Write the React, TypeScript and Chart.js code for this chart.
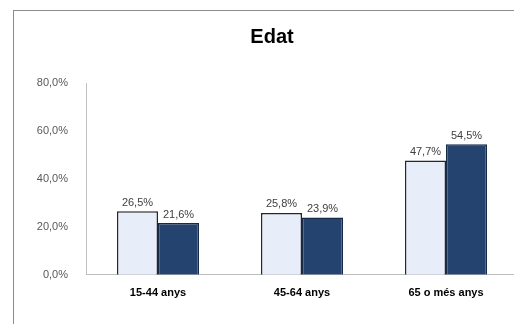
import React, { useEffect, useRef } from "react";
import { Chart, registerables } from "chart.js";

Chart.register(...registerables);

const categories = ["15-44 anys", "45-64 anys", "65 o més anys"];
const seriesA = [26.5, 25.8, 47.7];
const seriesB = [21.6, 23.9, 54.5];
const titleText = "Edat";

const fmt = (v: number) => v.toFixed(1).replace(".", ",") + "%";

const FONT = "'Liberation Sans', Arial, sans-serif";

const labelPlugin = {
  id: "valueLabels",
  afterDatasetsDraw(chart: any) {
    const ctx = chart.ctx;
    ctx.save();
    ctx.font = `11px ${FONT}`;
    ctx.fillStyle = "#404040";
    ctx.textAlign = "center";
    ctx.textBaseline = "bottom";
    chart.data.datasets.forEach((ds: any, di: number) => {
      const meta = chart.getDatasetMeta(di);
      meta.data.forEach((el: any, i: number) => {
        ctx.fillText(fmt(ds.data[i]), el.x, el.y - 3);
      });
    });
    ctx.restore();
  },
};

function grad(ctx: any, edge: string, mid: string) {
  const chart = ctx.chart;
  const el = ctx.element;
  if (!chart.chartArea || !el) return mid;
  const x0 = el.x - el.width / 2;
  const x1 = el.x + el.width / 2;
  if (!isFinite(x0) || !isFinite(x1)) return mid;
  const g = chart.ctx.createLinearGradient(x0, 0, x1, 0);
  g.addColorStop(0, edge);
  g.addColorStop(0.2, mid);
  g.addColorStop(0.8, mid);
  g.addColorStop(1, edge);
  return g;
}

export default function App() {
  const ref = useRef<HTMLCanvasElement>(null);
  useEffect(() => {
    if (!ref.current) return;
    const chart = new Chart(ref.current, {
      type: "bar",
      data: {
        labels: categories,
        datasets: [
          {
            label: "A",
            data: seriesA,
            backgroundColor: (c: any) => grad(c, "#c6d3ea", "#e7eef9"),
            borderColor: "#262626",
            borderWidth: 1.5,
            categoryPercentage: 0.57,
            barPercentage: 1,
          },
          {
            label: "B",
            data: seriesB,
            backgroundColor: (c: any) => grad(c, "#1a3358", "#24436f"),
            borderColor: "#172a48",
            borderWidth: 1.5,
            categoryPercentage: 0.57,
            barPercentage: 1,
          },
        ],
      },
      options: {
        animation: false,
        responsive: false,
        layout: { padding: { left: 26, right: 26, top: 0, bottom: 20 } },
        plugins: {
          legend: { display: false },
          tooltip: { enabled: false },
          title: {
            display: true,
            text: titleText,
            color: "#000",
            font: { family: FONT, size: 20, weight: "bold" },
            padding: { top: 25, bottom: 34 },
          },
        },
        scales: {
          x: {
            grid: { display: false },
            border: { display: true, color: "#bfbfbf" },
            ticks: {
              color: "#000",
              font: { family: FONT, size: 11, weight: "bold" },
              padding: 4,
            },
          },
          y: {
            min: 0,
            max: 80,
            grid: { display: false },
            border: { display: true, color: "#bfbfbf" },
            afterFit: (s: any) => {
              s.width = 60;
            },
            ticks: {
              stepSize: 20,
              color: "#595959",
              font: { family: FONT, size: 11 },
              padding: 10,
              callback: (v: any) => fmt(Number(v)),
            },
          },
        },
      },
      plugins: [labelPlugin],
    });
    return () => chart.destroy();
  }, []);

  return (
    <div
      style={{
        position: "fixed",
        left: 0,
        top: 0,
        width: 514,
        height: 324,
        overflow: "hidden",
        background: "#fff",
      }}
    >
      <div
        style={{
          position: "absolute",
          left: 13,
          top: 10,
          width: 800,
          height: 600,
          borderLeft: "1px solid #8c8c8c",
          borderTop: "1px solid #8c8c8c",
          boxSizing: "border-box",
        }}
      />
      <canvas
        ref={ref}
        width={544}
        height={324}
        style={{ position: "absolute", left: 0, top: 0 }}
      />
    </div>
  );
}
